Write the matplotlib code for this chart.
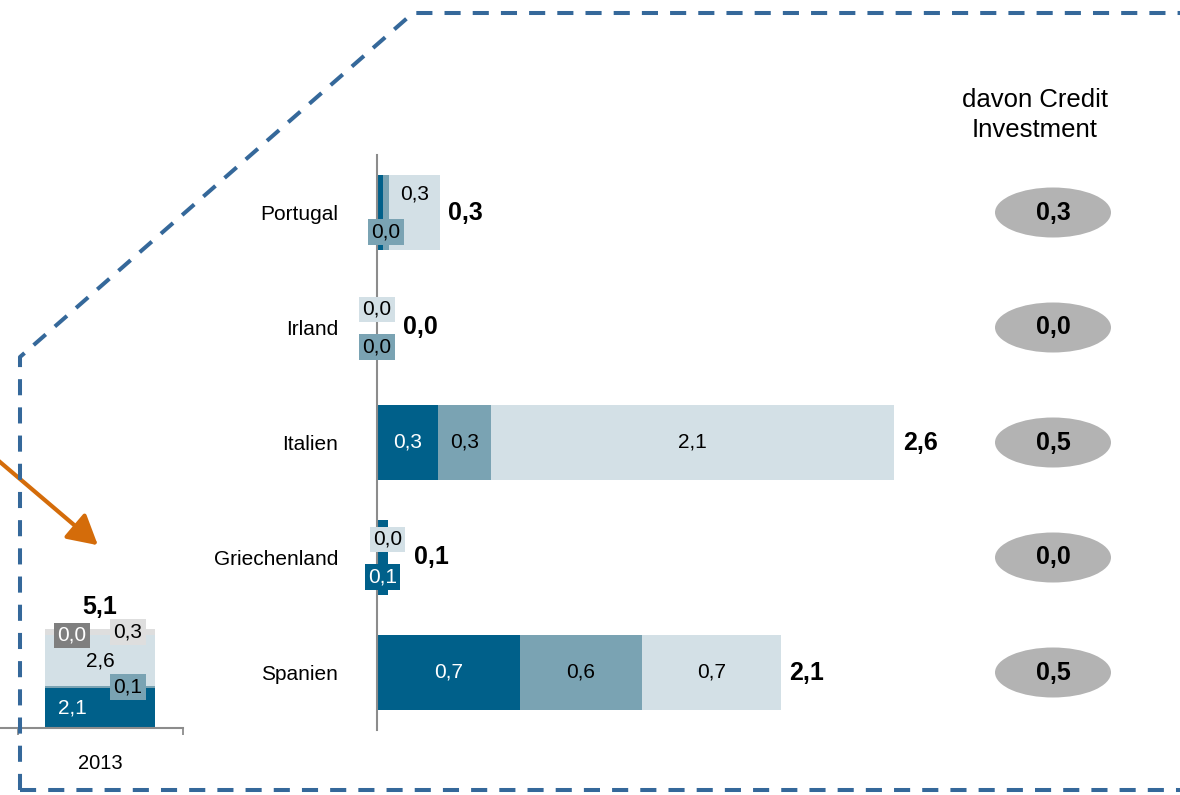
import matplotlib
matplotlib.use('Agg')
import matplotlib.pyplot as plt
from matplotlib.patches import Ellipse, FancyArrowPatch
from matplotlib.lines import Line2D

plt.rcParams['font.family'] = ['Liberation Sans', 'DejaVu Sans']

# Daten
laender = ['Portugal', 'Irland', 'Italien', 'Griechenland', 'Spanien']
teil_dunkel = [0.03, 0.0, 0.31, 0.055, 0.73]
teil_mittel = [0.03, 0.0, 0.27, 0.0, 0.62]
teil_hell = [0.26, 0.0, 2.06, 0.0, 0.71]
credit_investment = [0.3, 0.0, 0.5, 0.0, 0.5]

# Beschriftungsposition je Segment: 'in' = im Balken, 'oben'/'unten' = Kasten versetzt, None = keine
label_pos = [
    [None, 'unten', 'oben'],
    [None, 'unten', 'oben'],
    ['in', 'in', 'in'],
    ['unten', None, 'oben'],
    ['in', 'in', 'in'],
]

jahr = '2013'
gesamt_werte = [2.06, 0.1, 2.6, 0.02, 0.31]

c_dunkel = '#00608a'
c_mittel = '#7aa3b3'
c_hell = '#d3e0e6'
c_grau = '#7f7f7f'
c_hellgrau = '#dedede'
c_rahmen = '#35689a'

def fmt(v):
    return f'{v:.1f}'.replace('.', ',')

W, H = 1180, 795
fig = plt.figure(figsize=(W / 100, H / 100), dpi=100)

# Hauptdiagramm
px_per_unit = 196
ax = fig.add_axes([377 / W, 65 / H, (W - 377) / W, 575 / H])
ax.set_xlim(0, (W - 377) / px_per_unit)
ax.set_ylim(4.5, -0.5)
for s in ['top', 'right', 'bottom']:
    ax.spines[s].set_visible(False)
ax.spines['left'].set_color('#8c8c8c')
ax.spines['left'].set_linewidth(1.5)
ax.set_xticks([])
ax.set_yticks(range(len(laender)))
ax.set_yticklabels(laender, fontsize=15)
ax.tick_params(axis='y', length=0, pad=28)

farben = [c_dunkel, c_mittel, c_hell]
segmente = [teil_dunkel, teil_mittel, teil_hell]
links = [0.0] * len(laender)
for k in range(3):
    ax.barh(range(len(laender)), segmente[k], left=links, height=0.65,
            color=farben[k], edgecolor='none', zorder=2)
    for i in range(len(laender)):
        v = segmente[k][i]
        mitte = links[i] + v / 2
        pos = label_pos[i][k]
        tcol = 'white' if k == 0 else 'black'
        if pos == 'in':
            ax.text(mitte, i, fmt(v), ha='center', va='center', fontsize=15,
                    color=tcol, zorder=4)
        elif pos is not None:
            dy = 13 if pos == 'oben' else -14
            ax.annotate(fmt(v), (mitte, i), xytext=(0, dy), textcoords='offset points',
                        ha='center', va='center', fontsize=15, color=tcol, zorder=4,
                        bbox=dict(boxstyle='square,pad=0.15', fc=farben[k], ec='none'))
    links = [links[i] + segmente[k][i] for i in range(len(laender))]

for i, tot in enumerate(links):
    dx = 6 if tot > 0.15 else 19
    ax.annotate(fmt(tot), (tot, i), xytext=(dx, 0), textcoords='offset points',
                ha='left', va='center', fontsize=18, fontweight='bold')

# davon Credit Investment
ex = (1053 - 377) / px_per_unit
for i, v in enumerate(credit_investment):
    ax.add_patch(Ellipse((ex, i), 116 / px_per_unit, 50 / 115, fc='#b3b3b3',
                         ec='none', clip_on=False, zorder=2))
    ax.text(ex, i, fmt(v), ha='center', va='center', fontsize=18,
            fontweight='bold', zorder=3)
fig.text(1035 / W, 1 - 115 / H, 'davon Credit\nInvestment', ha='center',
         va='center', fontsize=18.5, linespacing=1.35)

# kleines Diagramm links (2013)
ax2 = fig.add_axes([0, 67 / H, 183 / W, 128 / H])
ax2.set_xlim(-100 / 165, 83 / 165)
ax2.set_ylim(0, 128 / 19.45)
for s in ['top', 'right', 'left']:
    ax2.spines[s].set_visible(False)
ax2.spines['bottom'].set_color('#8c8c8c')
ax2.spines['bottom'].set_linewidth(1.5)
ax2.set_yticks([])
ax2.set_xticks([-0.5, 0.5])
ax2.set_xticklabels(['', ''])
ax2.tick_params(axis='x', which='major', length=5, width=1.3, color='#8c8c8c')
ax2.set_xticks([0], [jahr], minor=True)
ax2.tick_params(axis='x', which='minor', length=0, pad=19, labelsize=14.5)

farben2 = [c_dunkel, c_mittel, c_hell, c_grau, c_hellgrau]
xoff = [-0.17, 0.17, 0.0, -0.17, 0.17]
unten = 0.0
for k, v in enumerate(gesamt_werte):
    ax2.bar(0, v, bottom=unten, width=0.667, color=farben2[k], edgecolor='none', zorder=2)
    tcol = 'white' if k in (0, 3) else 'black'
    ax2.text(xoff[k], unten + v / 2, fmt(v), ha='center', va='center', fontsize=15,
             color=tcol, zorder=4,
             bbox=dict(boxstyle='square,pad=0.15', fc=farben2[k], ec='none'))
    unten += v
ax2.annotate(fmt(unten), (0, unten), xytext=(0, 16), textcoords='offset points',
             ha='center', va='center', fontsize=18, fontweight='bold',
             annotation_clip=False)

# gestrichelter Rahmen
xs = [20, 20, 413, 1180]
ys = [790, 357, 13, 13]
fig.add_artist(Line2D([x / W for x in xs], [1 - y / H for y in ys],
                      transform=fig.transFigure, color=c_rahmen, lw=2.9,
                      linestyle=(0, (4, 3))))
fig.add_artist(Line2D([20 / W, 1], [1 - 790 / H, 1 - 790 / H],
                      transform=fig.transFigure, color=c_rahmen, lw=2.9,
                      linestyle=(0, (4, 3))))

# Pfeil
pfeil = FancyArrowPatch((-10 / W, 1 - 453.5 / H), (100 / W, 1 - 547 / H),
                        transform=fig.transFigure, arrowstyle='-|>,head_length=0.9,head_width=0.5',
                        mutation_scale=20, color='#d46c0a', lw=3)
fig.add_artist(pfeil)

fig.savefig('out.png', dpi=100)
